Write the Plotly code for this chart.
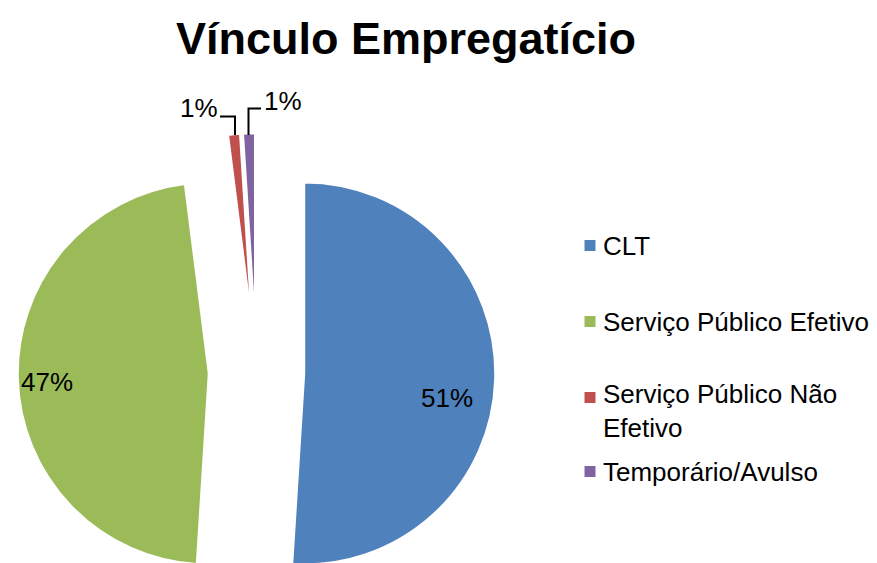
import plotly.graph_objects as go

categories = ["CLT", "Serviço Público Efetivo", "Serviço Público Não Efetivo", "Temporário/Avulso"]
values = [51, 47, 1, 1]
legend_labels = ["CLT", "Serviço Público Efetivo", "Serviço Público Não<br>Efetivo", "Temporário/Avulso"]
colors = ["#4F81BD", "#9BBB59", "#C0504D", "#8064A2"]

W, H = 877, 640
OFF = 8  # page body margin
FONT = "Arial, Liberation Sans, sans-serif"

def X(px):
    return (px - OFF) / W

def Y(py):
    return 1 - (py - OFF) / H

r = 191
cx, cy = 256.5, 372
half = 1.25 * r

fig = go.Figure(go.Pie(
    labels=categories,
    values=values,
    sort=False,
    direction="clockwise",
    rotation=0,
    pull=[0.25, 0.25, 0.25, 0.25],
    marker=dict(colors=colors, line=dict(color="white", width=2)),
    textinfo="none",
    domain=dict(x=[X(cx - half), X(cx + half)], y=[Y(cy + half), Y(cy - half)]),
    showlegend=False,
    automargin=False,
    hoverinfo="label+percent",
))

# percentage labels (text derived from the values)
total = sum(values)
label_pos = [(447, 398), (47, 382), (199, 107.5), (282.5, 101)]
for v, (lx, ly) in zip(values, label_pos):
    fig.add_annotation(xref="paper", yref="paper", x=X(lx), y=Y(ly),
                       xanchor="center", yanchor="middle", showarrow=False,
                       text=f"{round(v / total * 100)}%",
                       font=dict(family=FONT, size=26, color="black"))

# leader lines for the small slices
leaders = [
    [(220, 116.5), (235, 116.5), (235, 135)],
    [(261, 108.5), (248.5, 108.5), (248.5, 135)],
]
for pts in leaders:
    path = "M " + " L ".join(f"{X(px):.5f},{Y(py):.5f}" for px, py in pts)
    fig.add_shape(type="path", xref="paper", yref="paper", path=path,
                  line=dict(color="black", width=2))

# legend
legend_y = [245.5, 321.5, 397.5, 471.5]
text_y = [245.5, 321.5, 411, 471.5]
for lab, col, ym, yt in zip(legend_labels, colors, legend_y, text_y):
    fig.add_shape(type="rect", xref="paper", yref="paper",
                  x0=X(584.5), x1=X(595.5), y0=Y(ym + 5.5), y1=Y(ym - 5.5),
                  fillcolor=col, line=dict(width=0))
    fig.add_annotation(xref="paper", yref="paper", x=X(601), y=Y(yt),
                       xanchor="left", yanchor="middle", align="left",
                       text=lab, showarrow=False,
                       font=dict(family=FONT, size=26, color="black"))

fig.update_layout(
    width=W, height=H,
    margin=dict(l=0, r=0, t=0, b=0, autoexpand=False),
    paper_bgcolor="white", plot_bgcolor="white",
    title=dict(text="<b>Vínculo Empregatício</b>", x=X(406), y=Y(38),
               xanchor="center", yanchor="middle", xref="container", yref="container",
               font=dict(family=FONT, size=45, color="black")),
)

fig.write_html("out.html")
